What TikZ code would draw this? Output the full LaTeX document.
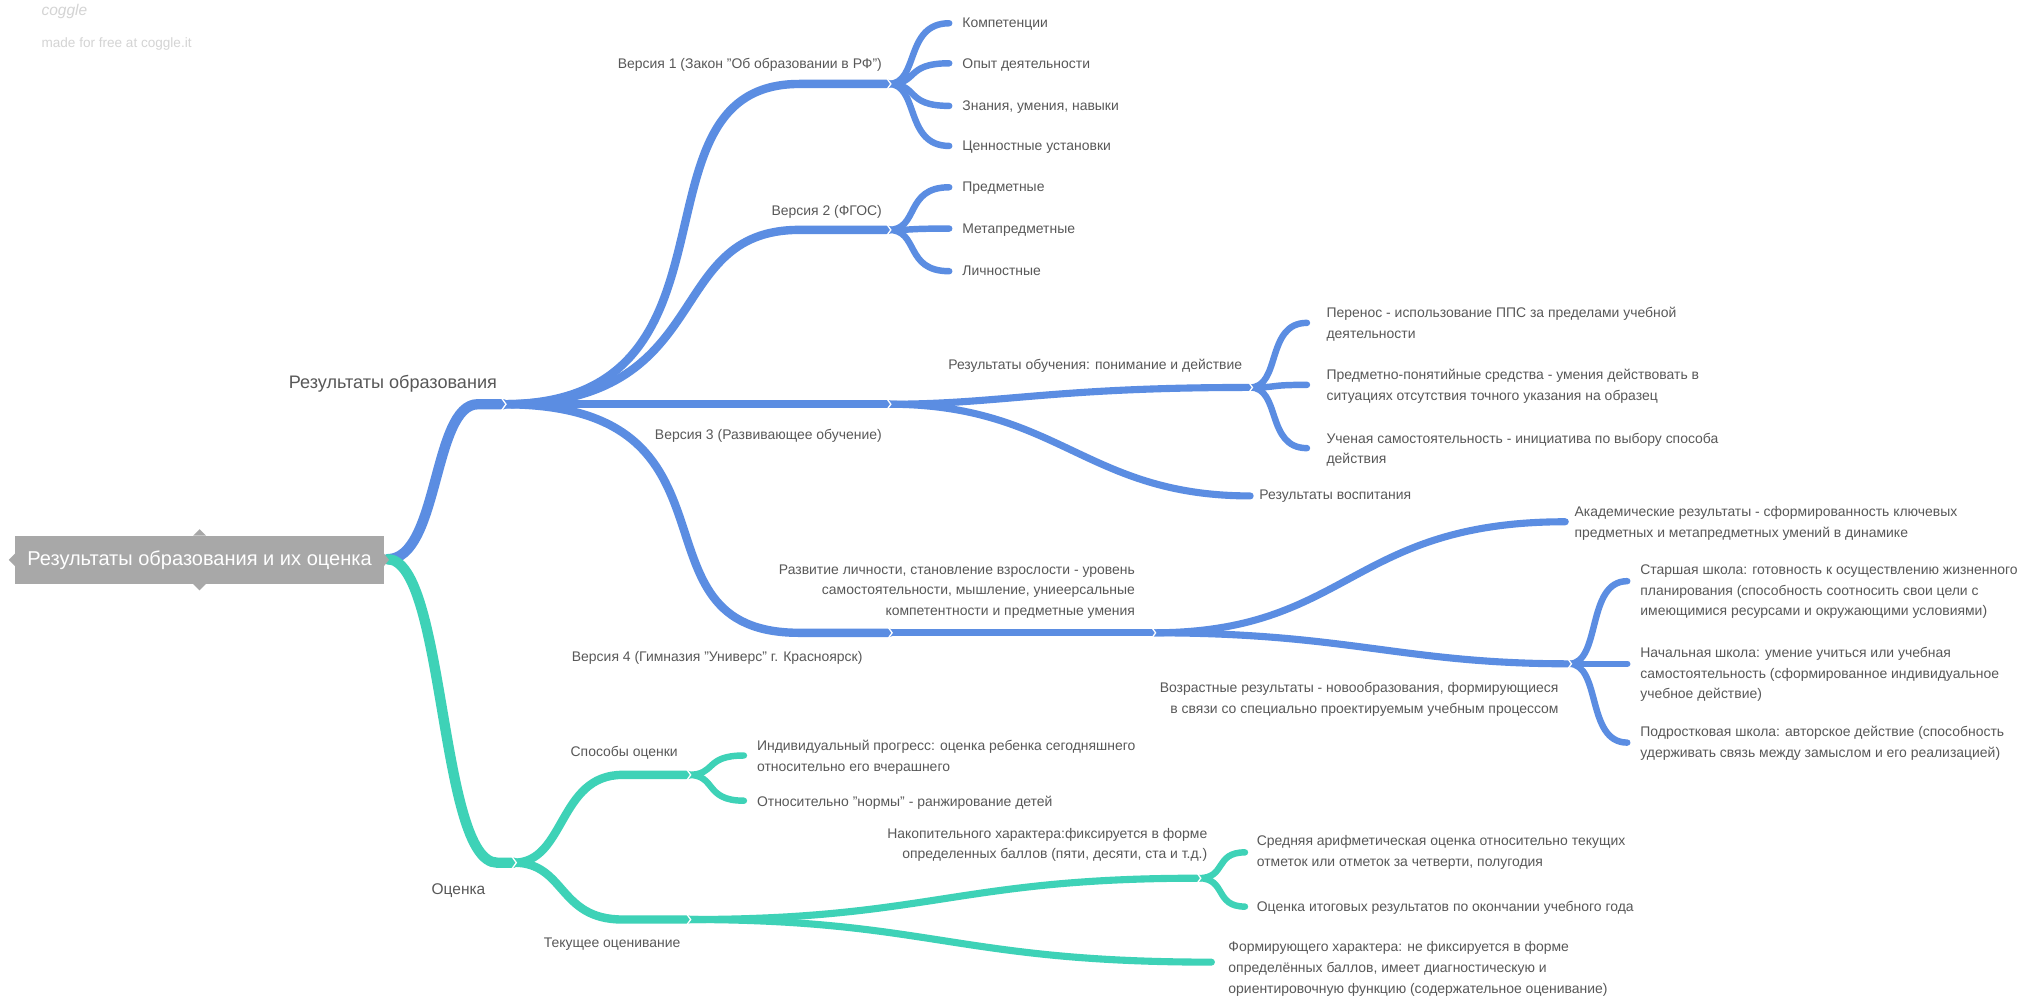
\documentclass[tikz,border=0pt]{standalone}
\usepackage{fontspec}
\setmainfont{Liberation Sans}
\definecolor{cblue}{RGB}{91,141,226}
\definecolor{cteal}{RGB}{62,210,183}
\definecolor{txtgray}{RGB}{88,88,88}
\definecolor{rootgray}{RGB}{168,168,168}
\definecolor{wmgray}{RGB}{212,212,212}
\tikzset{
  txt/.style={font=\fontsize{10.8}{16}\selectfont, text=txtgray, inner sep=0pt},
  lt/.style={txt, anchor=north west, align=left},
  rt/.style={txt, anchor=north east, align=right},
  bA/.style={draw=cblue, line width=8pt, line cap=round},
  bB/.style={draw=cblue, line width=6.5pt, line cap=round},
  bC/.style={draw=cblue, line width=5.5pt, line cap=round},
  bD/.style={draw=cblue, line width=5pt, line cap=round},
  tA/.style={draw=cteal, line width=8pt, line cap=round},
  tB/.style={draw=cteal, line width=6.5pt, line cap=round},
  tC/.style={draw=cteal, line width=5.5pt, line cap=round},
  tD/.style={draw=cteal, line width=5pt, line cap=round},
  chev/.pic={\draw[white, line width=1pt, line cap=butt, line join=miter] (-1.8,-5) -- (1.8,0) -- (-1.8,5);},
}
\begin{document}
\begin{tikzpicture}[x=1pt,y=-1pt]
\fill[white] (0,0) rectangle (1568,773);
\useasboundingbox (0,0) rectangle (1568,773);

% watermark
\node[anchor=west, inner sep=0pt, text=wmgray, font=\itshape\fontsize{12}{12}\selectfont] (wm1) at (32,9) {coggle};
\node[anchor=west, inner sep=0pt, text=wmgray, font=\fontsize{10.5}{11}\selectfont] (wm2) at (32,34) {made for free at coggle.it};

% coordinates
\coordinate (R) at (300,433);
\coordinate (B0) at (390,313);
\coordinate (V1) at (688,65);
\coordinate (V2) at (688,178);
\coordinate (V3) at (688,313);
\coordinate (V4) at (689,490);
\coordinate (c11) at (735,18);
\coordinate (c12) at (735,49);
\coordinate (c13) at (735,82);
\coordinate (c14) at (735,113);
\coordinate (c21) at (735,145);
\coordinate (c22) at (735,177);
\coordinate (c23) at (735,210);
\coordinate (RO) at (968,300);
\coordinate (RV) at (968,384);
\coordinate (c31) at (1012,250);
\coordinate (c32) at (1012,298);
\coordinate (c33) at (1012,347);
\coordinate (RL) at (893,490);
\coordinate (AK) at (1212,404);
\coordinate (VR) at (1215,514);
\coordinate (c41) at (1260,450);
\coordinate (c42) at (1260,514);
\coordinate (c43) at (1260,575);
\coordinate (OC) at (398,668);
\coordinate (SO) at (533,600);
\coordinate (TO) at (533,712);
\coordinate (c51) at (576,585);
\coordinate (c52) at (576,620);
\coordinate (NK) at (928,680);
\coordinate (FO) at (938,745);
\coordinate (c61) at (964,660);
\coordinate (c62) at (964,702);

% ---------- blue branches ----------
\draw[bA] (R) .. controls (340,433) and (335,313) .. (370,313) -- (B0);
\draw[bB] (B0) .. controls (588,313) and (480,65) .. (619,65) -- (V1);
\draw[bB] (B0) .. controls (557,313) and (511,178) .. (619,178) -- (V2);
\draw[bB] (B0) -- (V3);
\draw[bB] (B0) .. controls (588,313) and (480,490) .. (619,490) -- (V4);
\foreach \c in {c11,c12,c13,c14}{\draw[bD] (V1) .. controls (712,65) and (700,0|-\c) .. (\c);}
\foreach \c in {c21,c22,c23}{\draw[bD] (V2) .. controls (712,178) and (700,0|-\c) .. (\c);}
\draw[bC] (V3) .. controls (775,313) and (813,300) .. (RO);
\draw[bC] (V3) .. controls (820,313) and (840,384) .. (RV);
\foreach \c in {c31,c32,c33}{\draw[bD] (RO) .. controls (992,300) and (980,0|-\c) .. (\c);}
\draw[bC] (V4) -- (RL);
\draw[bC] (RL) .. controls (1045,490) and (1045,404) .. (AK);
\draw[bC] (RL) .. controls (1045,490) and (1085,514) .. (VR);
\foreach \c in {c41,c42,c43}{\draw[bD] (VR) .. controls (1240,514) and (1228,0|-\c) .. (\c);}

% ---------- teal branches ----------
\draw[tA] (R) .. controls (345,433) and (340,668) .. (385,668) -- (OC);
\draw[tB] (OC) .. controls (438,668) and (432,600) .. (482,600) -- (SO);
\draw[tB] (OC) .. controls (438,668) and (432,712) .. (482,712) -- (TO);
\foreach \c in {c51,c52}{\draw[tD] (SO) .. controls (555,600) and (545,0|-\c) .. (\c);}
\draw[tC] (TO) .. controls (720,712) and (740,680) .. (NK);
\draw[tC] (TO) .. controls (720,712) and (740,745) .. (FO);
\foreach \c in {c61,c62}{\draw[tD] (NK) .. controls (950,680) and (940,0|-\c) .. (\c);}

% chevrons
\foreach \p in {B0,V1,V2,V3,V4,RO,RL,VR,OC,SO,TO,NK}{\pic at (\p) {chev};}

% ---------- root ----------
\node[fill=rootgray, minimum width=285pt, minimum height=37pt, inner sep=0pt,
      text=white, font=\fontsize{15.5}{16}\selectfont] (root) at (154.5,433.5)
      {Результаты образования и их оценка};
\fill[rootgray] ([xshift=-5pt]root.north) -- ([yshift=5pt]root.north) -- ([xshift=5pt]root.north) -- cycle;
\fill[rootgray] ([xshift=-5pt]root.south) -- ([yshift=-5pt]root.south) -- ([xshift=5pt]root.south) -- cycle;
\fill[rootgray] ([yshift=-5pt]root.west) -- ([xshift=-5pt]root.west) -- ([yshift=5pt]root.west) -- cycle;
\fill[rootgray] ([yshift=-5pt]root.east) -- ([xshift=4pt]root.east) -- ([yshift=5pt]root.east) -- cycle;

% ---------- labels ----------
\node[txt, anchor=east, font=\fontsize{14}{16}\selectfont] (tre) at (385,297) {Результаты образования};
\node[txt, anchor=center, font=\fontsize{12}{16}\selectfont] (toc) at (355,690) {Оценка};

\node[rt] (tv1) at (683,45) {Версия 1 (Закон "Об образовании в РФ")};
\node[rt] (tv2) at (683,159) {Версия 2 (ФГОС)};
\node[rt] (tv3) at (683,332) {Версия 3 (Развивающее обучение)};
\node[rt] (tv4) at (668,504) {Версия 4 (Гимназия "Универс" г. Красноярск)};

\node[lt] (t11) at (745,14) {Компетенции};
\node[lt] (t12) at (745,45) {Опыт деятельности};
\node[lt] (t13) at (745,78) {Знания, умения, навыки};
\node[lt] (t14) at (745,109) {Ценностные установки};
\node[lt] (t21) at (745,141) {Предметные};
\node[lt] (t22) at (745,173) {Метапредметные};
\node[lt] (t23) at (745,206) {Личностные};

\node[rt] (tro) at (962,278) {Результаты обучения: понимание и действие};
\node[lt] (t31) at (1027,238) {Перенос - использование ППС за пределами учебной\\деятельности};
\node[lt] (t32) at (1027,286) {Предметно-понятийные средства - умения действовать в\\ситуациях отсутствия точного указания на образец};
\node[lt] (t33) at (1027,335) {Ученая самостоятельность - инициатива по выбору способа\\действия};
\node[lt] (trv) at (975,379) {Результаты воспитания};

\node[rt] (trl) at (879,437) {Развитие личности, становление взрослости - уровень\\самостоятельности, мышление, униеерсальные\\компетентности и предметные умения};
\node[lt] (tak) at (1219,392) {Академические результаты - сформированность ключевых\\предметных и метапредметных умений в динамике};
\node[rt] (tvr) at (1207,528) {Возрастные результаты - новообразования, формирующиеся\\в связи со специально проектируемым учебным процессом};
\node[lt] (t41) at (1270,437) {Старшая школа: готовность к осуществлению жизненного\\планирования (способность соотносить свои цели с\\имеющимися ресурсами и окружающими условиями)};
\node[lt] (t42) at (1270,501) {Начальная школа: умение учиться или учебная\\самостоятельность (сформированное индивидуальное\\учебное действие)};
\node[lt] (t43) at (1270,562) {Подростковая школа: авторское действие (способность\\удерживать связь между замыслом и его реализацией)};

\node[rt] (tso) at (525,578) {Способы оценки};
\node[lt] (t51) at (586,573) {Индивидуальный прогресс: оценка ребенка сегодняшнего\\относительно его вчерашнего};
\node[lt] (t52) at (586,616) {Относительно "нормы" - ранжирование детей};
\node[rt] (tto) at (527,726) {Текущее оценивание};
\node[rt] (tnk) at (935,641) {Накопительного характера:фиксируется в форме\\определенных баллов (пяти, десяти, ста и т.д.)};
\node[lt] (t61) at (973,647) {Средняя арифметическая оценка относительно текущих\\отметок или отметок за четверти, полугодия};
\node[lt] (t62) at (973,698) {Оценка итоговых результатов по окончании учебного года};
\node[lt] (tfo) at (951,729) {Формирующего характера: не фиксируется в форме\\определённых баллов, имеет диагностическую и\\ориентировочную функцию (содержательное оценивание)};
\end{tikzpicture}
\end{document}
